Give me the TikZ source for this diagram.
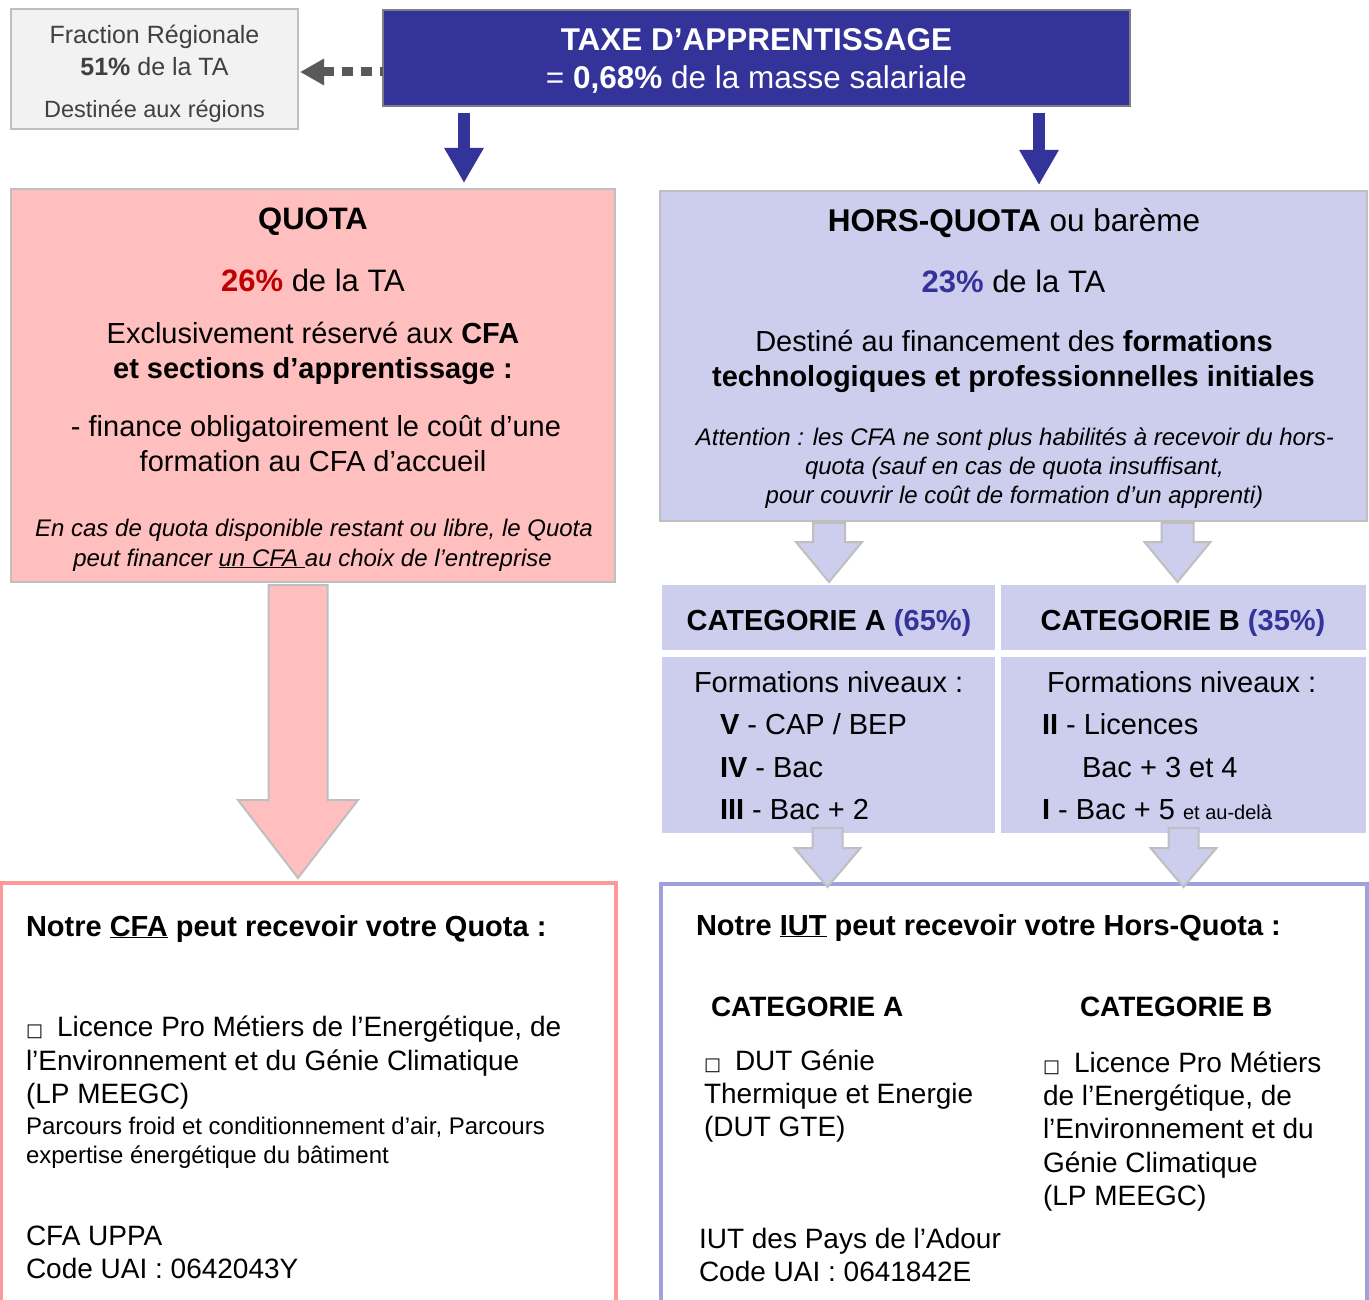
\documentclass[tikz,border=0pt]{standalone}
\usepackage{fontspec}
\setmainfont{Liberation Sans}
\newfontfamily\symfont{DejaVu Sans}
\usetikzlibrary{arrows.meta,calc}
\definecolor{navy}{HTML}{333399}
\definecolor{lav}{HTML}{CDCDEE}
\definecolor{pinkf}{HTML}{FFBFBF}
\definecolor{grayb}{HTML}{BFBFBF}
\definecolor{fracf}{HTML}{F2F2F2}
\definecolor{darkred}{HTML}{C00000}
\definecolor{pinkb}{HTML}{FF9999}
\definecolor{lavb}{HTML}{A0A0DD}
\definecolor{dgray}{HTML}{595959}
\definecolor{tgray}{HTML}{404040}
\definecolor{topb}{HTML}{7F7F7F}
\newcommand\fsz[1]{\fontsize{#1}{#1}\selectfont}
\newcommand\sq{{\symfont\fsz{18}□}\hspace{14pt}}
% block arrow: style, from, to, half shaft, half head, head length
\newcommand\blockarrow[6]{%
  \path[#1] let \p1=#2, \p2=#3 in
    (\x1-#4,\y1) -- (\x1+#4,\y1) -- (\x1+#4,\y2+#6) -- (\x1+#5,\y2+#6)
    -- (\x1,\y2) -- (\x1-#5,\y2+#6) -- (\x1-#4,\y2+#6) -- cycle;}
\tikzset{
  box/.style={draw, line width=2pt, inner sep=0pt, outer sep=0pt, anchor=north west},
  txt/.style={inner sep=0pt, outer sep=0pt, anchor=base},
  txtl/.style={inner sep=0pt, outer sep=0pt, anchor=base west},
  darr/.style={draw=navy, line width=12pt, -{Triangle[length=35pt,width=37pt]},
               shorten <=7pt, shorten >=6pt},
  dotarr/.style={draw=dgray, line width=9pt, dash pattern=on 11pt off 8pt,
                 {Triangle[length=24pt,width=25pt]}-},
  lavarr/.style={fill=lav, draw=grayb, line width=2pt, line join=miter},
  pinkarr/.style={fill=pinkf, draw=grayb, line width=2pt, line join=miter},
}
\begin{document}
\begin{tikzpicture}[x=1pt,y=-1pt]
\useasboundingbox (0,0) rectangle (1369,1300);
\clip (0,0) rectangle (1369,1300);
\fill[white] (0,0) rectangle (1369,1300);

% boxes
\node[box, fill=fracf, draw=grayb, minimum width=287pt, minimum height=120pt] (frac) at (11,9) {};
\node[box, fill=navy, draw=topb, minimum width=747pt, minimum height=96pt] (top) at (383,10) {};
\node[box, fill=pinkf, draw=grayb, minimum width=604pt, minimum height=393pt] (quota) at (11,189) {};
\node[box, fill=lav, draw=grayb, minimum width=707pt, minimum height=330pt] (hq) at (660,191) {};
\node[box, fill=lav, draw=none, minimum width=333pt, minimum height=65pt] (catA) at (662,585) {};
\node[box, fill=lav, draw=none, minimum width=365pt, minimum height=65pt] (catB) at (1001,585) {};
\node[box, fill=lav, draw=none, minimum width=333pt, minimum height=176pt] (levA) at (662,657) {};
\node[box, fill=lav, draw=none, minimum width=365pt, minimum height=176pt] (levB) at (1001,657) {};
\node[box, draw=pinkb, line width=4pt, minimum width=615pt, minimum height=450pt] (botL) at (1,883) {};
\node[box, draw=lavb, line width=4pt, minimum width=706pt, minimum height=450pt] (botR) at (661,884) {};

% connectors
\coordinate (la) at (464,0);
\coordinate (ra) at (1039,0);
\draw[darr] (top.south -| la) -- (quota.north -| la);
\draw[darr] (top.south -| ra) -- (hq.north -| ra);
\draw[dotarr] ($(frac.east |- top.west)+(2,14)$) -- ($(top.west)+(0,14)$);
\blockarrow{lavarr}{($(hq.south -| catA.north)+(0.5,2)$)}{($(catA.north)+(0.5,-3)$)}{16pt}{33pt}{40pt}
\blockarrow{lavarr}{($(hq.south -| catB.north)+(-6,2)$)}{($(catB.north)+(-6,-3)$)}{16pt}{33pt}{40pt}
\blockarrow{pinkarr}{($(quota.south west)+(287,3)$)}{($(botL.north west)+(297,-5)$)}{29.5pt}{60pt}{78pt}
\blockarrow{lavarr}{($(levA.south)+(-1,-5)$)}{($(botR.north -| levA.south)+(-1,3)$)}{15pt}{33pt}{39pt}
\blockarrow{lavarr}{($(levB.south)+(0,-5)$)}{($(botR.north -| levB.south)+(0,3)$)}{15pt}{33pt}{39pt}

% texts: fraction
\node[txt, text=tgray, font=\fsz{25}] (f1) at (154.5,44) {Fraction Régionale};
\node[txt, text=tgray, font=\fsz{25}] (f2) at (154.5,76) {\textbf{51\%} de la TA};
\node[txt, text=tgray, font=\fsz{23.5}] (f3) at (154.5,118) {Destinée aux régions};
% top
\node[txt, text=white, font=\bfseries\fsz{31.5}] (t1) at (756.5,51) {TAXE D’APPRENTISSAGE};
\node[txt, text=white, font=\fsz{31.5}] (t2) at (756.5,89) {= \textbf{0,68\%} de la masse salariale};
% quota
\node[txt, font=\bfseries\fsz{31}] (q1) at (313,230) {QUOTA};
\node[txt, font=\fsz{31}] (q2) at (313,291) {\textcolor{darkred}{\textbf{26\%}} de la TA};
\node[txt, font=\fsz{29}] (q3) at (313,343) {Exclusivement réservé aux \textbf{CFA}};
\node[txt, font=\bfseries\fsz{29}] (q4) at (313,378) {et sections d’apprentissage :};
\node[txt, font=\fsz{29}] (q5) at (316,436) {- finance obligatoirement le coût d’une};
\node[txt, font=\fsz{29}] (q6) at (313,471) {formation au CFA d’accueil};
\node[txt, font=\itshape\fsz{24}] (q7) at (314,536) {En cas de quota disponible restant ou libre, le Quota};
\node[txt, font=\itshape\fsz{24}] (q8) at (312.5,566) {peut financer \underline{un CFA }au choix de l’entreprise};
% hors quota
\node[txt, font=\fsz{31.5}] (h1) at (1014,232) {\textbf{HORS-QUOTA} ou barème};
\node[txt, font=\fsz{31}] (h2) at (1013.5,293) {\textcolor{navy}{\textbf{23\%}} de la TA};
\node[txt, font=\fsz{29}] (h3) at (1014,351) {Destiné au financement des \textbf{formations}};
\node[txt, font=\bfseries\fsz{29}] (h4) at (1013.5,386) {technologiques et professionnelles initiales};
\node[txt, font=\itshape\fsz{24}] (h5) at (1015,445) {Attention : les CFA ne sont plus habilités à recevoir du hors-};
\node[txt, font=\itshape\fsz{24}] (h6) at (1014.5,474) {quota (sauf en cas de quota insuffisant,};
\node[txt, font=\itshape\fsz{24}] (h7) at (1014.5,503) {pour couvrir le coût de formation d’un apprenti)};
% categories
\node[txt, font=\bfseries\fsz{29}] (c1) at (829,630) {CATEGORIE A \textcolor{navy}{(65\%)}};
\node[txt, font=\bfseries\fsz{29}] (c2) at (1183,630) {CATEGORIE B \textcolor{navy}{(35\%)}};
\node[txtl, font=\fsz{29}] (la1) at (694,692) {Formations niveaux :};
\node[txtl, font=\fsz{29}] (la2) at (720,734) {\textbf{V} - CAP / BEP};
\node[txtl, font=\fsz{29}] (la3) at (720,777) {\textbf{IV} - Bac};
\node[txtl, font=\fsz{29}] (la4) at (720,819) {\textbf{III} - Bac + 2};
\node[txtl, font=\fsz{29}] (lb1) at (1047,692) {Formations niveaux :};
\node[txtl, font=\fsz{29}] (lb2) at (1042,734) {\textbf{II} - Licences};
\node[txtl, font=\fsz{29}] (lb3) at (1082,777) {Bac + 3 et 4};
\node[txtl, font=\fsz{29}] (lb4) at (1042,819) {\textbf{I} - Bac + 5 {\fsz{20}et au-delà}};
% bottom left
\node[txtl, font=\bfseries\fsz{29}] (bl1) at (26,936) {Notre \underline{CFA} peut recevoir votre Quota :};
\node[txtl, font=\fsz{28}] (bl2) at (26,1036) {\sq Licence Pro Métiers de l’Energétique, de};
\node[txtl, font=\fsz{28}] (bl3) at (26,1070) {l’Environnement et du Génie Climatique};
\node[txtl, font=\fsz{28}] (bl4) at (26,1103) {(LP MEEGC)};
\node[txtl, font=\fsz{24}] (bl5) at (26,1134) {Parcours froid et conditionnement d’air, Parcours};
\node[txtl, font=\fsz{24}] (bl6) at (26,1163) {expertise énergétique du bâtiment};
\node[txtl, font=\fsz{28}] (bl7) at (26,1245) {CFA UPPA};
\node[txtl, font=\fsz{28}] (bl8) at (26,1278) {Code UAI : 0642043Y};
% bottom right
\node[txtl, font=\bfseries\fsz{29}] (br1) at (696,935) {Notre \underline{IUT} peut recevoir votre Hors-Quota :};
\node[txtl, font=\bfseries\fsz{28}] (br2) at (711,1016) {CATEGORIE A};
\node[txtl, font=\bfseries\fsz{28}] (br3) at (1080,1016) {CATEGORIE B};
\node[txtl, font=\fsz{28}] (ba1) at (704,1070) {\sq DUT Génie};
\node[txtl, font=\fsz{28}] (ba2) at (704,1103) {Thermique et Energie};
\node[txtl, font=\fsz{28}] (ba3) at (704,1136) {(DUT GTE)};
\node[txtl, font=\fsz{28}] (bb1) at (1043,1072) {\sq Licence Pro Métiers};
\node[txtl, font=\fsz{28}] (bb2) at (1043,1105) {de l’Energétique, de};
\node[txtl, font=\fsz{28}] (bb3) at (1043,1138) {l’Environnement et du};
\node[txtl, font=\fsz{28}] (bb4) at (1043,1172) {Génie Climatique};
\node[txtl, font=\fsz{28}] (bb5) at (1043,1205) {(LP MEEGC)};
\node[txtl, font=\fsz{28}] (bi1) at (699,1248) {IUT des Pays de l’Adour};
\node[txtl, font=\fsz{28}] (bi2) at (699,1281) {Code UAI : 0641842E};
\end{tikzpicture}
\end{document}
